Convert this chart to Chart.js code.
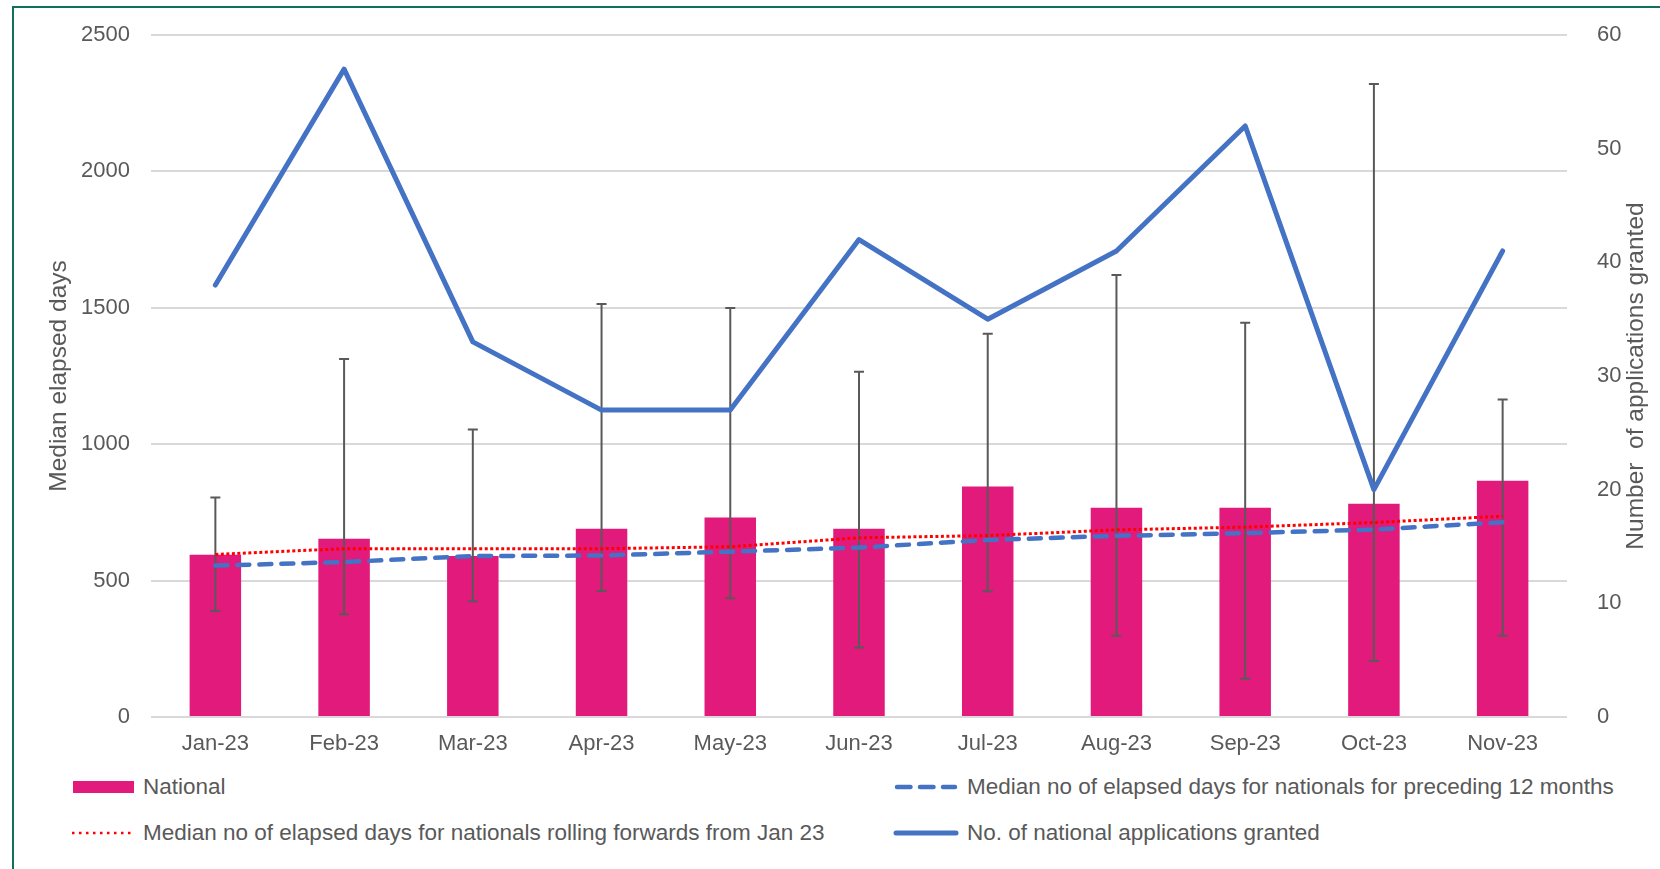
<!DOCTYPE html>
<html>
<head>
<meta charset="utf-8">
<title>National applications - median elapsed days</title>
<script src="https://cdn.jsdelivr.net/npm/chart.js@4.4.1/dist/chart.umd.min.js"></script>
<style>
  html, body { margin: 0; padding: 0; background: #fff; overflow: hidden; }
  body { width: 1660px; height: 869px; position: relative; font-family: "Liberation Sans", Arial, sans-serif; color: #595959; }
  .frame { position: absolute; left: 12px; top: 6px; width: 1700px; height: 900px; border: 2px solid #10705a; box-sizing: border-box; }
  .chart-box { position: absolute; left: 0; top: 0; width: 1660px; height: 770px; }
  .legend-item { position: absolute; display: flex; align-items: center; height: 30px; font-size: 22.5px; white-space: nowrap; }
  .legend-item svg { margin-right: 8px; }
</style>
</head>
<body>
<div class="frame"></div>
<div class="chart-box"><canvas id="elapsedChart" width="1660" height="770"></canvas></div>

<!-- legend, two columns like the original -->
<div class="legend-item" style="left:72px; top:772px;">
  <svg width="63" height="14"><rect x="1" y="1" width="61" height="12" fill="#e11a7b"/></svg>National
</div>
<div class="legend-item" style="left:893px; top:772px;">
  <svg width="66" height="10"><line x1="4" y1="5" x2="62" y2="5" stroke="#4472c4" stroke-width="4.5" stroke-dasharray="13.5 9.5" stroke-linecap="round"/></svg>Median no of elapsed days for nationals for preceding 12 months
</div>
<div class="legend-item" style="left:72px; top:818px;">
  <svg width="63" height="10"><line x1="0" y1="5" x2="62" y2="5" stroke="#ff0000" stroke-width="2.5" stroke-dasharray="2.5 4.5"/></svg>Median no of elapsed days for nationals rolling forwards from Jan 23
</div>
<div class="legend-item" style="left:893px; top:818px;">
  <svg width="66" height="10"><line x1="3" y1="5" x2="63" y2="5" stroke="#4472c4" stroke-width="5" stroke-linecap="round"/></svg>No. of national applications granted
</div>

<script>
// data
const months = ['Jan-23', 'Feb-23', 'Mar-23', 'Apr-23', 'May-23', 'Jun-23', 'Jul-23', 'Aug-23', 'Sep-23', 'Oct-23', 'Nov-23'];
const nationalDays = [595, 653, 590, 690, 731, 690, 845, 767, 767, 782, 866];
const errHigh = [805, 1312, 1054, 1514, 1499, 1266, 1405, 1620, 1445, 2320, 1164];
const errLow = [389, 377, 424, 462, 435, 255, 461, 298, 140, 205, 298];
const rollingForward = [596, 617, 617, 617, 624, 657, 665, 686, 696, 713, 736];
const preceding12 = [555, 568, 590, 592, 606, 621, 649, 664, 674, 687, 714];
const granted = [38, 57, 33, 27, 27, 42, 35, 41, 52, 20, 41];

// axis ranges
const daysTicks = [0, 500, 1000, 1500, 2000, 2500];
const grantedTicks = [0, 10, 20, 30, 40, 50, 60];

const textColor = '#595959';
const fontFamily = '"Liberation Sans", Arial, sans-serif';
const titleSize = 24.5;
Chart.defaults.font.family = fontFamily;
Chart.defaults.font.size = 22;
Chart.defaults.color = textColor;

// error bars drawn right after the bars, so lines stay on top
const errorBars = {
    id: 'errorBars',
    afterDatasetDraw(chart, args) {
        if (args.index !== 0) return;
        const ctx = chart.ctx;
        const y = chart.scales.y;
        ctx.save();
        ctx.strokeStyle = textColor;
        ctx.lineWidth = 2;
        args.meta.data.forEach((bar, i) => {
            const top = y.getPixelForValue(errHigh[i]);
            const bottom = y.getPixelForValue(errLow[i]);
            ctx.beginPath();
            ctx.moveTo(bar.x, top);
            ctx.lineTo(bar.x, bottom);
            ctx.moveTo(bar.x - 5, top);
            ctx.lineTo(bar.x + 5, top);
            ctx.moveTo(bar.x - 5, bottom);
            ctx.lineTo(bar.x + 5, bottom);
            ctx.stroke();
        });
        ctx.restore();
    }
};

// right axis title reads bottom-to-top in the original (chart.js turns it the other way)
const rightTitle = {
    id: 'rightTitle',
    afterDraw(chart) {
        const ctx = chart.ctx;
        const area = chart.chartArea;
        ctx.save();
        ctx.translate(chart.scales.y1.right - 24, (area.top + area.bottom) / 2);
        ctx.rotate(-Math.PI / 2);
        ctx.font = titleSize + 'px ' + fontFamily;
        ctx.fillStyle = textColor;
        ctx.textAlign = 'center';
        ctx.textBaseline = 'middle';
        ctx.fillText('Number  of applications granted', 0, 0);
        ctx.restore();
    }
};

new Chart(document.getElementById('elapsedChart'), {
    type: 'bar',
    data: {
        labels: months,
        datasets: [
            {
                type: 'bar',
                label: 'National',
                data: nationalDays,
                backgroundColor: '#e11a7b',
                categoryPercentage: 1,
                barPercentage: 0.4,
                yAxisID: 'y',
                order: 4,
            },
            {
                type: 'line',
                label: 'Median no of elapsed days for nationals rolling forwards from Jan 23',
                data: rollingForward,
                borderColor: '#ff0000',
                borderWidth: 3,
                borderDash: [3, 2.5],
                pointRadius: 0,
                tension: 0,
                yAxisID: 'y',
                order: 3,
            },
            {
                type: 'line',
                label: 'Median no of elapsed days for nationals for preceding 12 months',
                data: preceding12,
                borderColor: '#4472c4',
                borderWidth: 4.5,
                borderDash: [12, 10],
                borderCapStyle: 'round',
                pointRadius: 0,
                tension: 0,
                yAxisID: 'y',
                order: 2,
            },
            {
                type: 'line',
                label: 'No. of national applications granted',
                data: granted,
                borderColor: '#4472c4',
                borderWidth: 5,
                borderCapStyle: 'round',
                borderJoinStyle: 'round',
                pointRadius: 0,
                tension: 0,
                yAxisID: 'y1',
                order: 1,
            },
        ],
    },
    options: {
        responsive: false,
        animation: false,
        layout: { padding: { top: 35, left: 0, right: 0, bottom: 0 } },
        plugins: {
            legend: { display: false },
            tooltip: { enabled: false },
        },
        scales: {
            x: {
                grid: { display: false, drawTicks: false },
                border: { display: false },
                ticks: { padding: 14, maxRotation: 0 },
                afterFit(scale) { scale.height = 53; },
            },
            y: {
                position: 'left',
                min: daysTicks[0],
                max: daysTicks[daysTicks.length - 1],
                ticks: { stepSize: daysTicks[1] - daysTicks[0], padding: 21, callback: (v) => String(v) },
                grid: { color: '#d9d9d9', lineWidth: 2, drawTicks: false },
                border: { display: false },
                title: {
                    display: true,
                    text: 'Median elapsed days',
                    font: { size: titleSize },
                    padding: { top: 45, bottom: 0 },
                },
                afterFit(scale) {
                    scale.width = 151;
                    scale.paddingTop = 0;
                    scale.paddingBottom = 0;
                },
            },
            y1: {
                position: 'right',
                min: grantedTicks[0],
                max: grantedTicks[grantedTicks.length - 1],
                ticks: { stepSize: grantedTicks[1] - grantedTicks[0], padding: 30, callback: (v) => String(v) },
                grid: { display: false, drawTicks: false },
                border: { display: false },
                afterFit(scale) {
                    scale.width = 93;
                    scale.paddingTop = 0;
                    scale.paddingBottom = 0;
                },
            },
        },
    },
    plugins: [errorBars, rightTitle],
});
</script>
</body>
</html>
